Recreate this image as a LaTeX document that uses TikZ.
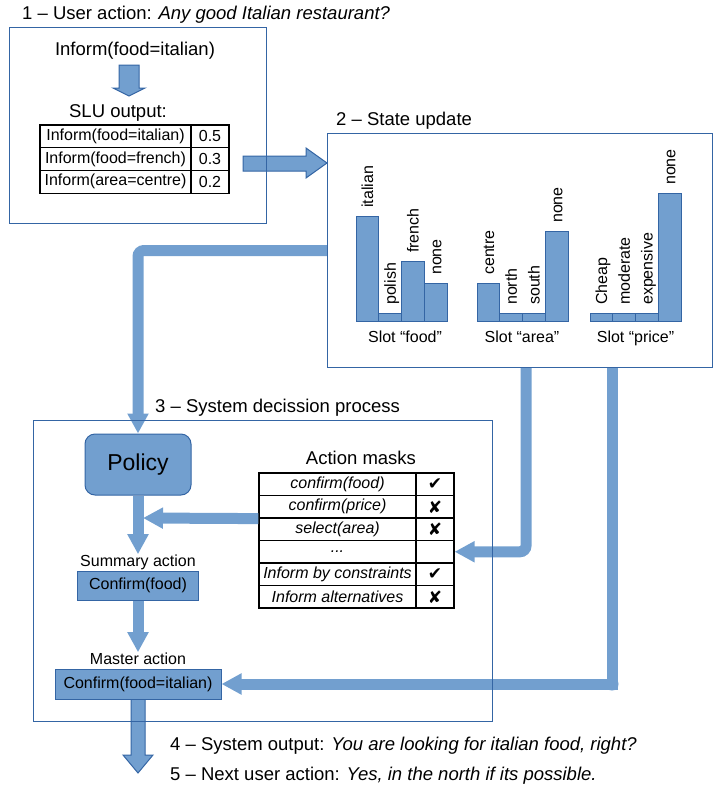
\documentclass[tikz,border=0pt]{standalone}
\usepackage{fontspec}
\setmainfont{Liberation Sans}
\newfontfamily\tickfont{DejaVu Sans}
\usetikzlibrary{arrows.meta,calc}

\definecolor{barblue}{HTML}{729FCF}
\definecolor{lineblue}{HTML}{3465A4}
\newcommand{\moredots}{...}

\pgfdeclarelayer{front}
\pgfsetlayers{main,front}

\tikzset{
  heading/.style={font=\fontsize{18.5}{22}\selectfont, inner sep=0pt},
  small/.style={font=\fontsize{16}{19}\selectfont, inner sep=0pt},
  frame/.style={draw=lineblue, line width=1pt, inner sep=0pt},
  bluebox/.style={draw=lineblue, fill=barblue, line width=1pt, inner sep=0pt},
  blockarrow/.style={draw=lineblue, fill=barblue, line width=1pt, line join=miter},
  flow/.style={draw=barblue, line width=11pt, -{Triangle[length=20pt,width=20pt]}},
  cell/.style={draw, line width=1.2pt, inner sep=0pt, font=\fontsize{16}{19}\selectfont},
  bar/.style={draw=lineblue, fill=barblue, line width=1pt},
  barlabel/.style={small, rotate=90, anchor=west, text height=11.5pt, text depth=0pt},
}

\begin{document}
\begin{tikzpicture}[x=1pt, y=-1pt]
\useasboundingbox (0,0) rectangle (714,788);

% frames of the three stages
\begin{pgfonlayer}{front}
  \node[frame, anchor=north west, minimum width=257pt, minimum height=196pt] (userbox) at (9,27) {};
  \node[frame, anchor=north west, minimum width=385pt, minimum height=234pt] (statebox) at (327,133) {};
  \node[frame, anchor=north west, minimum width=459pt, minimum height=301pt] (decbox) at (33,420) {};
\end{pgfonlayer}

% 1 - user action
\node[heading, anchor=base west] (title1) at (22,19) {1 -- User action: \textit{Any good Italian restaurant?}};
\node[heading] (userin) at (135,51) {Inform(food=italian)};
\draw[blockarrow] (119,65) -- (139,65) -- (139,88) -- (145,88) -- (129,96) -- (113,88) -- (119,88) -- cycle;
\node[heading] (slulabel) at (118,113) {SLU output:};
\foreach \act/\p [count=\i] in {food=italian/0.5, food=french/0.3, area=centre/0.2}
{
  \node[cell, minimum width=151pt, minimum height=22.7pt] (slu\i) at (115.5,113.7+22.7*\i) {Inform(\act)};
  \node[cell, minimum width=38pt, minimum height=22.7pt] (prob\i) at (210,113.7+22.7*\i) {\p};
}
\draw[blockarrow] (243,156) -- (306,156) -- (306,148) -- (327,163) -- (306,178) -- (306,171) -- (243,171) -- cycle;

% 2 - state update
\node[heading, anchor=base west] (title2) at (336,125) {2 -- State update};
\foreach \lab/\h [count=\i] in {italian/105, polish/8, french/60, none/38}
{
  \draw[bar] (333.25+22.75*\i,321) rectangle ++(22.75,-\h);
  \node[barlabel] (food\i) at (344.625+22.75*\i,313-\h) {\lab};
}
\foreach \lab/\h [count=\i] in {centre/38, north/8, south/8, none/90}
{
  \draw[bar] (454.25+22.75*\i,321) rectangle ++(22.75,-\h);
  \node[barlabel] (area\i) at (465.625+22.75*\i,313-\h) {\lab};
}
\foreach \lab/\h [count=\i] in {Cheap/8, moderate/8, expensive/8, none/128}
{
  \draw[bar] (567.25+22.75*\i,321) rectangle ++(22.75,-\h);
  \node[barlabel] (price\i) at (578.625+22.75*\i,313-\h) {\lab};
}
\node[small, anchor=base] (foodslot) at (405,342) {Slot “food”};
\node[small, anchor=base] (areaslot) at (522,342) {Slot “area”};
\node[small, anchor=base] (priceslot) at (635.5,342) {Slot “price”};

% 3 - system decision
\node[heading, anchor=base west] (title3) at (155,412) {3 -- System decission process};
\node[bluebox, rounded corners=10pt, minimum width=106pt, minimum height=61pt, font=\fontsize{23}{27}\selectfont] (policy) at (138,464.5) {Policy};
\node[small, anchor=base] (sumlabel) at (138,566) {Summary action};
\node[bluebox, small, minimum width=121pt, minimum height=29pt] (sumbox) at (138,585.5) {Confirm(food)};
\node[small, anchor=base] (masterlabel) at (138,664) {Master action};
\draw[blockarrow] (131,699) -- (145,699) -- (145,755) -- (153,755) -- (138,773) -- (123,755) -- (131,755) -- cycle;
\node[bluebox, small, minimum width=166pt, minimum height=30pt] (masterbox) at (138,684) {Confirm(food=italian)};

\node[heading, anchor=base] (masktitle) at (361,464) {Action masks};
\foreach \act/\ok [count=\i] in {confirm(food)/✔, confirm(price)/✘, select(area)/✘, \moredots/, Inform by constraints/✔, Inform alternatives/✘}
{
  \node[cell, font=\fontsize{16}{19}\selectfont\itshape, minimum width=157pt, minimum height=22.5pt] (mask\i) at (337.5,461.75+22.5*\i) {\act};
  \node[cell, font=\fontsize{17}{19}\selectfont\tickfont, minimum width=38pt, minimum height=22.5pt] (maskok\i) at (435,461.75+22.5*\i) {\ok};
}

% connectors
\coordinate (areaout) at (526,367);
\coordinate (priceout) at (612,367);
\coordinate (merge) at (143,518);
\draw[flow, rounded corners=6pt] (statebox.west) -| (policy.north);
\draw[flow, rounded corners=6pt] (areaout) |- (maskok4.east);
\draw[flow] (priceout) |- (masterbox.east);
\fill[barblue] (priceout |- masterbox.east) circle (6.5);
\draw[flow] (mask2.south west) -- (merge);
\draw[flow] (policy) -- (sumlabel);
\draw[flow] (sumbox) -- (masterlabel);

% 4 and 5
\node[heading, anchor=base west] (output) at (170,750) {4 -- System output: \textit{You are looking for italian food, right?}};
\node[heading, anchor=base west] (nextuser) at (170,780) {5 -- Next user action: \textit{Yes, in the north if its possible.}};

\end{tikzpicture}
\end{document}
